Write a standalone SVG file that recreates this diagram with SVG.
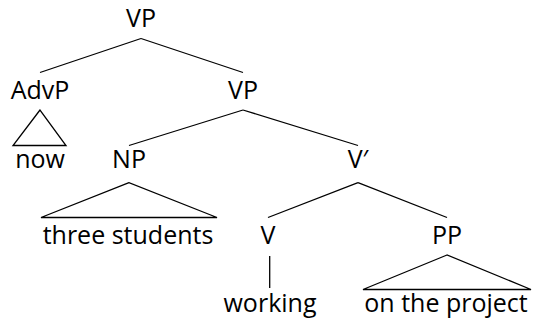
<svg xmlns="http://www.w3.org/2000/svg" width="534" height="322" viewBox="0 0 534 322">
<style>
text{font-family:"Open Sans","Noto Sans",sans-serif;font-size:25px;fill:#000;text-anchor:middle}
.e{stroke:#000;stroke-width:1.3;fill:none}
</style>
<rect width="534" height="322" fill="#fff"/>
<g id="connectors">
<line class="e" x1="141" y1="38.5" x2="40" y2="72.5"/>
<line class="e" x1="141" y1="38.5" x2="243" y2="72.5"/>
<polygon class="e" points="40,110 13,145.5 66,145.5"/>
<line class="e" x1="243" y1="110" x2="129" y2="145.5"/>
<line class="e" x1="243" y1="110" x2="358" y2="145.5"/>
<polygon class="e" points="129,182.7 41,217.5 217,217.5"/>
<line class="e" x1="358" y1="182.7" x2="268" y2="217.5"/>
<line class="e" x1="358" y1="182.7" x2="447" y2="217.5"/>
<line class="e" x1="269.7" y1="256" x2="269.7" y2="288"/>
<polygon class="e" points="447,255 363,289.5 531,289.5"/>
</g>
<g id="vp-top"><text x="141" y="27">VP</text></g>
<g id="advp"><text x="40" y="99">AdvP</text></g>
<g id="vp"><text x="243" y="99">VP</text></g>
<g id="now"><text x="40" y="168">now</text></g>
<g id="np"><text x="129" y="168">NP</text></g>
<g id="vbar"><text x="358" y="168">V′</text></g>
<g id="three-students"><text x="128" y="244">three students</text></g>
<g id="v"><text x="268" y="244">V</text></g>
<g id="pp"><text x="447" y="244">PP</text></g>
<g id="working"><text x="270" y="312">working</text></g>
<g id="on-the-project"><text x="446" y="312">on the project</text></g>
</svg>
